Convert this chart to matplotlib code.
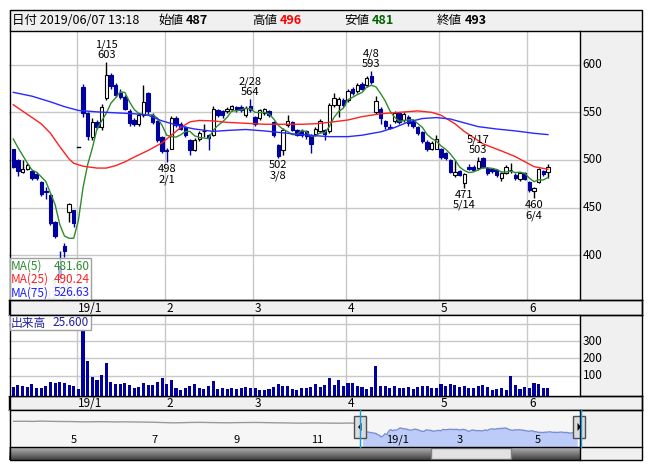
import numpy as np
import matplotlib.pyplot as plt
from matplotlib.patches import Rectangle, Polygon
from matplotlib.transforms import blended_transform_factory as blend

plt.rcParams['font.family'] = ['Liberation Sans Narrow', 'Noto Sans CJK JP', 'DejaVu Sans']

W, H = 652, 469

# --- daily data, 2018/12/10 - 2019/06/07
dates = ['12/10', '12/11', '12/12', '12/13', '12/14', '12/17', '12/18', '12/19', '12/20', '12/21',
         '12/25', '12/26', '12/27', '12/28',
         '1/4', '1/7', '1/8', '1/9', '1/10', '1/11', '1/15', '1/16', '1/17', '1/18', '1/21', '1/22',
         '1/23', '1/24', '1/25', '1/28', '1/29', '1/30', '1/31',
         '2/1', '2/4', '2/5', '2/6', '2/7', '2/8', '2/12', '2/13', '2/14', '2/15', '2/18', '2/19',
         '2/20', '2/21', '2/22', '2/25', '2/26', '2/27', '2/28',
         '3/1', '3/4', '3/5', '3/6', '3/7', '3/8', '3/11', '3/12', '3/13', '3/14', '3/15', '3/18',
         '3/19', '3/20', '3/22', '3/25', '3/26', '3/27', '3/28', '3/29',
         '4/1', '4/2', '4/3', '4/4', '4/5', '4/8', '4/9', '4/10', '4/11', '4/12', '4/15', '4/16',
         '4/17', '4/18', '4/19', '4/22', '4/23', '4/24', '4/25', '4/26',
         '5/7', '5/8', '5/9', '5/10', '5/13', '5/14', '5/15', '5/16', '5/17', '5/20', '5/21',
         '5/22', '5/23', '5/24', '5/27', '5/28', '5/29', '5/30', '5/31',
         '6/3', '6/4', '6/5', '6/6', '6/7']

opens = [511, 500, 487, 491, 488, 485, 477, 467, 463, 435, 388, 410, 445, 447,
         514, 577, 549, 524, 540, 535, 565, 589, 579, 570, 566, 551, 542, 538, 547, 570, 547, 541, 524,
         510, 512, 544, 538, 535, 521, 510, 522, 530, 526, 526, 552, 551, 551, 553, 556, 556, 547, 557,
         545, 544, 549, 551, 540, 516, 510, 537, 540, 531, 530, 530, 526, 527, 530, 531, 530, 558, 558, 563,
         563, 575, 572, 580, 579, 588, 550, 554, 541, 535, 541, 549, 542, 545, 541, 535, 529, 519, 512, 512,
         512, 507, 500, 484, 488, 476, 493, 493, 492, 502, 492, 491, 490, 481, 486, 489, 484, 480, 486,
         477, 467, 477, 488, 487]
highs = [512, 501, 500, 497, 490, 487, 478, 472, 464, 436, 404, 413, 455, 448,
         514, 580, 550, 544, 542, 559, 603, 591, 581, 575, 568, 553, 544, 549, 579, 571, 549, 542, 525,
         513, 546, 546, 540, 536, 522, 523, 530, 538, 527, 557, 554, 552, 556, 558, 557, 558, 557, 564,
         546, 554, 555, 552, 541, 517, 534, 547, 541, 533, 532, 531, 527, 535, 543, 533, 560, 570, 566, 565,
         575, 577, 581, 582, 588, 593, 567, 556, 542, 538, 551, 550, 550, 547, 542, 536, 530, 521, 520, 526,
         513, 508, 501, 500, 489, 486, 496, 495, 503, 503, 493, 492, 491, 487, 495, 497, 486, 487, 487,
         478, 472, 492, 489, 496]
lows = [492, 483, 486, 489, 479, 479, 462, 459, 432, 418, 376, 398, 435, 430,
        514, 545, 521, 521, 533, 531, 563, 575, 566, 564, 552, 536, 536, 536, 545, 548, 538, 519, 507,
        498, 511, 535, 531, 524, 505, 509, 520, 524, 510, 525, 545, 544, 549, 551, 550, 550, 545, 550,
        536, 542, 547, 545, 524, 502, 505, 535, 530, 525, 524, 522, 507, 525, 528, 521, 528, 556, 545, 556,
        561, 568, 570, 573, 577, 580, 548, 538, 533, 532, 539, 538, 540, 536, 534, 526, 518, 509, 510, 511,
        501, 500, 486, 482, 483, 471, 489, 488, 490, 492, 484, 486, 482, 478, 485, 486, 479, 478, 479,
        466, 460, 476, 483, 481]
closes = [493, 488, 491, 495, 481, 481, 464, 466, 434, 420, 377, 404, 454, 434,
          514, 549, 525, 540, 535, 556, 589, 578, 568, 566, 554, 539, 538, 547, 561, 551, 540, 521, 509,
          509, 544, 537, 533, 526, 510, 521, 528, 530, 523, 553, 547, 547, 554, 557, 553, 552, 555, 552,
          538, 552, 553, 547, 526, 504, 531, 541, 531, 526, 526, 525, 517, 533, 541, 527, 558, 565, 564, 558,
          572, 570, 579, 575, 586, 582, 562, 544, 536, 534, 549, 540, 548, 539, 536, 528, 520, 511, 518, 522,
          503, 502, 487, 487, 484, 485, 491, 490, 499, 493, 486, 488, 484, 486, 493, 490, 481, 486, 480,
          468, 471, 491, 485, 493]
volumes = [31, 43, 37, 33, 49, 25, 25, 37, 60, 56, 60, 55, 43, 37,
           19, 366, 186, 90, 72, 102, 174, 62, 51, 51, 55, 43, 27, 31, 55, 43, 43, 60, 84,
           49, 72, 25, 13, 25, 37, 49, 25, 19, 37, 66, 21, 25, 19, 25, 21, 25, 31, 25,
           25, 13, 13, 19, 31, 49, 37, 37, 19, 13, 25, 25, 31, 49, 31, 43, 84, 43, 72, 37,
           55, 55, 37, 31, 19, 31, 155, 37, 37, 25, 37, 25, 25, 31, 19, 31, 37, 37, 25, 25,
           49, 37, 49, 43, 31, 37, 25, 25, 37, 43, 31, 13, 19, 25, 13, 96, 43, 19, 31,
           25, 55, 49, 25, 25.6]
prior_closes = [533, 531, 535, 518]  # 12/4 - 12/7, only feed MA(5)

# moving averages (day index, value)
ma25_idx = [0, 3, 6, 8, 10, 12, 13, 15, 18, 20, 22, 24, 26, 29, 32, 34, 36, 38, 40, 43, 46, 50, 54,
            58, 62, 65, 68, 72, 75, 79, 83, 87, 90, 92, 95, 97, 101, 105, 108, 112, 115]
ma25_val = [558, 548, 538, 528, 514, 501, 496.5, 493.5, 491.5, 491.5, 494, 498, 503, 510, 518, 526,
            534, 540, 541.5, 541, 539.5, 538.5, 537.5, 537.5, 537.5, 538, 539.5, 542, 545.5, 548.5,
            550, 551.5, 550, 547, 538, 530, 517, 509.5, 503.5, 493, 490.24]
ma75_idx = [0, 4, 8, 11, 14, 18, 22, 26, 29, 32, 36, 39, 43, 46, 50, 54, 57, 61, 65, 68, 72, 75, 79,
            82, 85, 88, 91, 94, 97, 100, 104, 108, 112, 115]
ma75_val = [571, 567, 561, 556, 552, 550.5, 549.5, 548.5, 547, 541, 535.5, 532.5, 530, 531, 532,
            530.5, 529, 527, 525.5, 524.5, 524.5, 526, 529.5, 534, 540, 543.5, 544.5, 543, 539, 535,
            532.5, 530.5, 528, 526.63]

high_marks = ['1/15', '2/28', '4/8', '5/17']
low_marks = ['12/25', '2/1', '3/8', '5/14', '6/4']

# navigator: weekly closes before the shown range (2018/3 - 2018/12)
nav_pre = [740, 742, 738, 745, 740, 736, 735, 730, 728, 732, 730, 726, 728, 725, 722, 718, 712, 705,
           708, 714, 716, 712, 708, 706, 710, 712, 714, 710, 706, 704, 700, 698, 702, 700, 698, 696,
           700, 695]
nav_labels = ['5', '7', '9', '11', '19/1', '3', '5']
nav_label_x = [71, 151, 234, 311, 386, 457, 535]

header = [('日付 2019/06/07 13:18', 12, 'black', 'normal'),
          ('始値', 158, 'black', 'normal'), ('487', 186, 'black', 'bold'),
          ('高値', 252, 'black', 'normal'), ('496', 280, '#ff0000', 'bold'),
          ('安値', 344, 'black', 'normal'), ('481', 372, '#006400', 'bold'),
          ('終値', 437, 'black', 'normal'), ('493', 465, 'black', 'bold')]

# --- layout helpers (pixel boxes)
def box(x0, y0, x1, y1, **kw):
    return fig.add_axes([x0 / W, 1 - y1 / H, (x1 - x0) / W, (y1 - y0) / H], **kw)

n = len(dates)
XL = (-0.925, 121.9)
GRID = '#c8c8c8'
DOWN = '#0000a0'

fig = plt.figure(figsize=(W / 100, H / 100), dpi=100)
fig.patch.set_facecolor('white')

bg = box(0, 0, W, H, zorder=-5)
bg.set_xlim(0, W); bg.set_ylim(H, 0); bg.axis('off')
bg.add_patch(Rectangle((9, 10), 633, 21, fc='#f0f0f0', ec='none'))
bg.add_patch(Rectangle((580, 31), 62, 429, fc='#f0f0f0', ec='none'))

month_pos = [i - 0.4 for i in range(n) if i > 0 and dates[i].split('/')[0] != dates[i - 1].split('/')[0]]
month_txt = [('19/' if dates[i].startswith('1/') else '') + dates[i].split('/')[0]
             for i in range(n) if i > 0 and dates[i].split('/')[0] != dates[i - 1].split('/')[0]]

# --- price panel
pax = box(9, 31, 580, 300)
pax.set_xlim(*XL); pax.set_ylim(353, 635.4)
pax.set_xticks([]); pax.set_yticks([])
for s in pax.spines.values():
    s.set_visible(False)
for v in [400, 450, 500, 550, 600]:
    pax.axhline(v, color=GRID, lw=1, zorder=0)
    pax.text(1.005, v, str(v), transform=blend(pax.transAxes, pax.transData),
             ha='left', va='center', fontsize=8.5, clip_on=False)
for m in month_pos:
    pax.axvline(m, color=GRID, lw=1, zorder=0)

for i in range(n):
    o, h, l, c = opens[i], highs[i], lows[i], closes[i]
    up = c >= o
    col = 'black' if up else DOWN
    pax.plot([i, i], [l, h], color=col, lw=1, zorder=2, solid_capstyle='butt')
    if h == l:
        pax.plot([i - 0.4, i + 0.4], [c, c], color='black', lw=1, zorder=3)
        continue
    bot, hgt = min(o, c), max(abs(c - o), 0.6)
    pax.add_patch(Rectangle((i - 0.36, bot), 0.72, hgt, fc='white' if up else DOWN,
                            ec=col, lw=0.8, zorder=3))

ma5 = np.convolve(np.array(prior_closes + closes, float), np.ones(5) / 5, mode='valid')
pax.plot(range(n), ma5, color='#2e8b2e', lw=1, zorder=4)
pax.plot(ma25_idx, ma25_val, color='#ff2020', lw=1, zorder=4)
pax.plot(ma75_idx, ma75_val, color='#2828ff', lw=1, zorder=4)

for d in high_marks:
    i = dates.index(d)
    pax.text(i, highs[i] + 2, f'{d}\n{highs[i]}', ha='center', va='bottom', fontsize=8,
             linespacing=1.05, zorder=5)
for d in low_marks:
    i = dates.index(d)
    pax.text(i, lows[i] - 2, f'{lows[i]}\n{d}', ha='center', va='top', fontsize=8,
             linespacing=1.05, zorder=5, color='#b8b8b8' if d == '12/25' else 'black')

# --- month bars
for y0, y1 in [(300, 315), (396, 410)]:
    mb = box(9, y0, 642, y1)
    mb.set_facecolor('#f0f0f0')
    mb.set_xlim(XL[0], XL[0] + (XL[1] - XL[0]) * 633 / 571); mb.set_ylim(0, 1)
    mb.set_xticks([]); mb.set_yticks([])
    for s in mb.spines.values():
        s.set_color('black'); s.set_linewidth(1)
    for m, t in zip(month_pos, month_txt):
        mb.text(m + 0.35, 0.45, t, ha='left', va='center', fontsize=8.5)

# --- volume panel
vax = box(9, 315, 580, 396)
vax.set_xlim(*XL); vax.set_ylim(-20, 455)
vax.set_xticks([]); vax.set_yticks([])
for s in vax.spines.values():
    s.set_visible(False)
for v in [100, 200, 300, 400]:
    vax.axhline(v, color=GRID, lw=1, zorder=0)
for v in [100, 200, 300]:
    vax.text(1.005, v, str(v), transform=blend(vax.transAxes, vax.transData),
             ha='left', va='center', fontsize=8.5, clip_on=False)
for m in month_pos:
    vax.axvline(m, color=GRID, lw=1, zorder=0)
vax.bar(range(n), [v + 20 for v in volumes], bottom=-20, width=0.66, color=DOWN, zorder=2)

# --- navigator
nax = box(9, 410, 580, 447)
nax.set_facecolor('#f6f6f6')
npre = len(nav_pre)
pre_x = [-187 + 5 * k for k in range(npre)]
nax.set_xlim(-189.5, 116.5); nax.set_ylim(150, 1000)
nax.set_xticks([]); nax.set_yticks([])
for s in nax.spines.values():
    s.set_visible(False)
nax.plot(pre_x + [0], nav_pre + [closes[0]], color='#9a9a9a', lw=1)
nax.fill_between(range(n), closes, 150, color='#bccbf7', lw=0)
nax.plot(range(n), closes, color='#7b8fd6', lw=1)

# --- scrollbar
sax = box(9, 447, 580, 460)
sax.set_xlim(0, 1); sax.set_ylim(0, 1)
sax.imshow(np.linspace(0.75, 0.25, 32).reshape(-1, 1), cmap='gray', vmin=0, vmax=1,
           aspect='auto', extent=(0, 1, 0, 1))
sax.add_patch(Rectangle(((431 - 9) / 571, 0.05), 80 / 571, 0.9, fc='#e2e2e2', ec='#808080', lw=1))
sax.set_xticks([]); sax.set_yticks([])
for s in sax.spines.values():
    s.set_visible(False)

# --- overlay: frames, legend boxes, navigator handles
fg = box(0, 0, W, H, zorder=20)
fg.set_xlim(0, W); fg.set_ylim(H, 0); fg.axis('off')
fg.add_patch(Rectangle((9.5, 10.5), 632, 449.5, fc='none', ec='black', lw=1))
for y in [31, 300, 315, 396, 410, 447]:
    fg.plot([9.5, 642], [y, y], color='black', lw=1)
fg.plot([580, 580], [31, 300], color='black', lw=1)
fg.plot([580, 580], [315, 396], color='black', lw=1)
fg.plot([580, 580], [410, 460], color='black', lw=1)

for t, x, c, w in header:
    fg.text(x, 20.5, t, color=c, fontweight=w, fontsize=9, ha='left', va='center')

fg.add_patch(Rectangle((9.5, 258), 81, 42, fc='white', alpha=0.7, ec='none'))
fg.add_patch(Rectangle((9.5, 258), 81, 42, fc='none', ec='#a0a0a0', lw=1))
for k, (lab, val, c) in enumerate([('MA(5)', '481.60', '#2e8b2e'), ('MA(25)', '490.24', '#ff2020'),
                                   ('MA(75)', '526.63', '#2020ff')]):
    fg.text(11, 266 + 13.5 * k, lab, color=c, fontsize=8.5, ha='left', va='center')
    fg.text(90, 266 + 13.5 * k, val, color=c, fontsize=8.5, ha='right', va='center')

fg.add_patch(Rectangle((9.5, 315.5), 81, 14.5, fc='white', ec='#a0a0a0', lw=1))
fg.text(11, 323, '出来高', color='#2020a0', fontsize=8.5, ha='left', va='center')
fg.text(89, 323, '25.600', color='#2020a0', fontsize=8.5, ha='right', va='center')

for t, x in zip(nav_labels, nav_label_x):
    fg.text(x, 440, t, fontsize=8, ha='left', va='center')

for x in [360, 581]:
    fg.plot([x, x], [410, 447], color='#10a0e0', lw=1)
for x, d in [(360, -1), (579, 1)]:
    fg.add_patch(Rectangle((x - 6, 416), 12, 22, fc='#dcdcdc', ec='#505050', lw=1))
    fg.add_patch(Polygon([(x - 1.5 * d, 423), (x - 1.5 * d, 431), (x + 2 * d, 427)], closed=True,
                         fc='black', ec='none'))

fig.savefig('out.png', dpi=100)
